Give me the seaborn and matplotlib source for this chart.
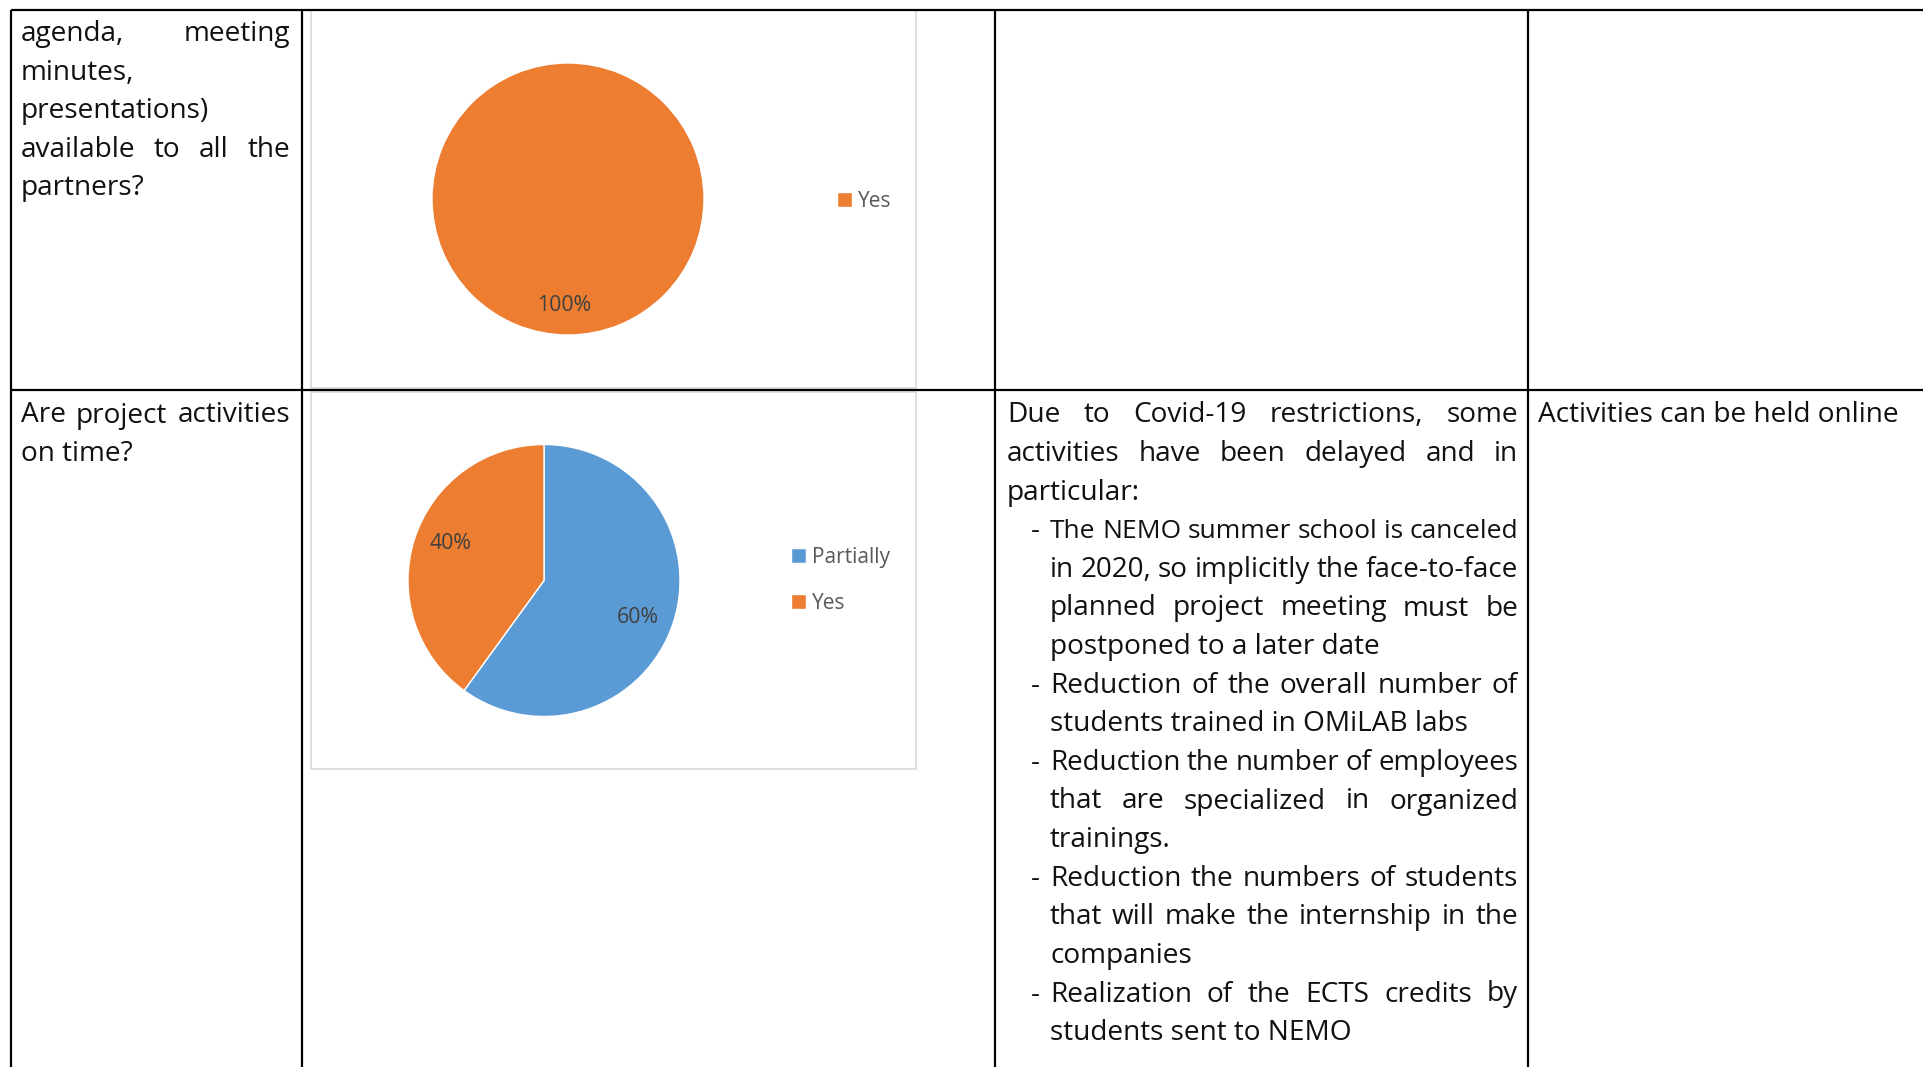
import matplotlib
matplotlib.use("Agg")
import numpy as np
import matplotlib.pyplot as plt
import seaborn as sns
from matplotlib.patches import Rectangle

# page size in pixels (dpi 100)
W, H = 1923, 1067

# chart data
pie1_labels = ["Yes"]
pie1_values = [100]
pie2_labels = ["Partially", "Yes"]
pie2_values = [60, 40]
series_colors = ["#5B9BD5", "#ED7D31"]
series_names = ["Partially", "Yes"]

# table text, (line, justified?)
q1_lines = [("agenda, meeting", True), ("minutes,", False), ("presentations)", False),
            ("available to all the", True), ("partners?", False)]
q2_lines = [("Are project activities", True), ("on time?", False)]
notes_intro = [("Due to Covid-19 restrictions, some", True),
               ("activities have been delayed and in", True),
               ("particular:", False)]
notes_bullets = [
    [("The NEMO summer school is canceled", True), ("in 2020, so implicitly the face-to-face", True),
     ("planned project meeting must be", True), ("postponed to a later date", False)],
    [("Reduction of the overall number of", True), ("students trained in OMiLAB labs", False)],
    [("Reduction the number of employees", True), ("that are specialized in organized", True),
     ("trainings.", False)],
    [("Reduction the numbers of students", True), ("that will make the internship in the", True),
     ("companies", False)],
    [("Realization of the ECTS credits by", True), ("students sent to NEMO", False)],
]
action_lines = [("Activities can be held online", False)]

BODY = 20.2
PCT = 15.3
LEG = 15.0
LINE_GAP = 38.6
TEXT_COLOR = "#111111"

sns.set_theme(style="white")
plt.rcParams["font.family"] = ["Open Sans", "DejaVu Sans"]
palette = dict(zip(series_names, sns.color_palette(series_colors)))

fig = plt.figure(figsize=(W / 100, H / 100), dpi=100)
fig.patch.set_facecolor("white")
page = fig.add_axes([0, 0, 1, 1])
page.set_xlim(0, W)
page.set_ylim(H, 0)
page.axis("off")
renderer = fig.canvas.get_renderer()


def px_rect(x, y, w, h):
    return [x / W, 1 - (y + h) / H, w / W, h / H]


def write_line(text, x0, x1, y, justify):
    words = text.split()
    if not justify or len(words) < 2:
        page.text(x0, y, text, fontsize=BODY, va="baseline", ha="left", color=TEXT_COLOR)
        return
    items = [page.text(x0, y, w, fontsize=BODY, va="baseline", ha="left", color=TEXT_COLOR)
             for w in words]
    widths = [t.get_window_extent(renderer).width for t in items]
    # keep a normal word space at least; shrink the line a little if it would not fit
    min_gap = 0.24 * BODY * 100 / 72
    room = x1 - x0 - min_gap * (len(words) - 1)
    if sum(widths) > room:
        size = BODY * room / sum(widths)
        for t in items:
            t.set_fontsize(size)
        widths = [t.get_window_extent(renderer).width for t in items]
    gap = (x1 - x0 - sum(widths)) / (len(words) - 1)
    x = x0
    for t, w in zip(items, widths):
        t.set_x(x)
        x += w + gap


def write_block(lines, x0, x1, y0):
    for i, (txt, just) in enumerate(lines):
        write_line(txt, x0, x1, y0 + i * LINE_GAP, just)
    return y0 + len(lines) * LINE_GAP


def draw_pie(labels, values, cx, cy, r, pct_dist, nudge, leg_x, leg_y):
    pad = 1.05
    ax = fig.add_axes(px_rect(cx - r * pad, cy - r * pad, 2 * r * pad, 2 * r * pad))
    ax.set_facecolor("none")
    wedges, _, autotexts = ax.pie(values, colors=[palette[l] for l in labels], startangle=90,
                                  counterclock=False, autopct="%1.0f%%", pctdistance=pct_dist,
                                  wedgeprops=dict(edgecolor="white", linewidth=1),
                                  textprops=dict(color="#404040", fontsize=PCT))
    # nudge labels a little clockwise, like the office "best fit" placement
    for w, t in zip(wedges, autotexts):
        mid = np.deg2rad((w.theta1 + w.theta2) / 2 - nudge)
        t.set_position((pct_dist * np.cos(mid), pct_dist * np.sin(mid)))
    ax.set_xlim(-pad, pad)
    ax.set_ylim(-pad, pad)
    ax.set_aspect("equal")
    fig.legend(wedges, labels, loc="center left", bbox_to_anchor=(leg_x / W, 1 - leg_y / H),
               frameon=False, fontsize=LEG, labelcolor="#595959", handlelength=0.7,
               handleheight=0.7, handletextpad=0.3, labelspacing=1.2,
               borderpad=0, borderaxespad=0)


# table grid
lw = 1.6
page.hlines([10, 390], 11, W, color="black", lw=lw)
page.vlines([11, 302, 995, 1528], 10, H, color="black", lw=lw)

# chart frames
for top, bottom in [(10, 388), (392, 769)]:
    page.add_patch(Rectangle((311, top), 605, bottom - top, fill=False,
                             edgecolor="#D9D9D9", lw=1.2))

# first column
write_block(q1_lines, 21, 290, 41)
write_block(q2_lines, 21, 290, 422.5)

# third column
y = write_block(notes_intro, 1007, 1518, 422.5)
for bullet in notes_bullets:
    page.text(1031, y, "-", fontsize=BODY, va="baseline", ha="left", color=TEXT_COLOR)
    y = write_block(bullet, 1050, 1518, y)

# fourth column
write_block(action_lines, 1538, 1915, 422.5)

# pies
draw_pie(pie1_labels, pie1_values, 568, 199, 136, 0.78, 2.0, 837, 201.5)
draw_pie(pie2_labels, pie2_values, 544, 580.5, 136, 0.74, 3.5, 791, 580.5)

fig.savefig("out.png", dpi=100)
